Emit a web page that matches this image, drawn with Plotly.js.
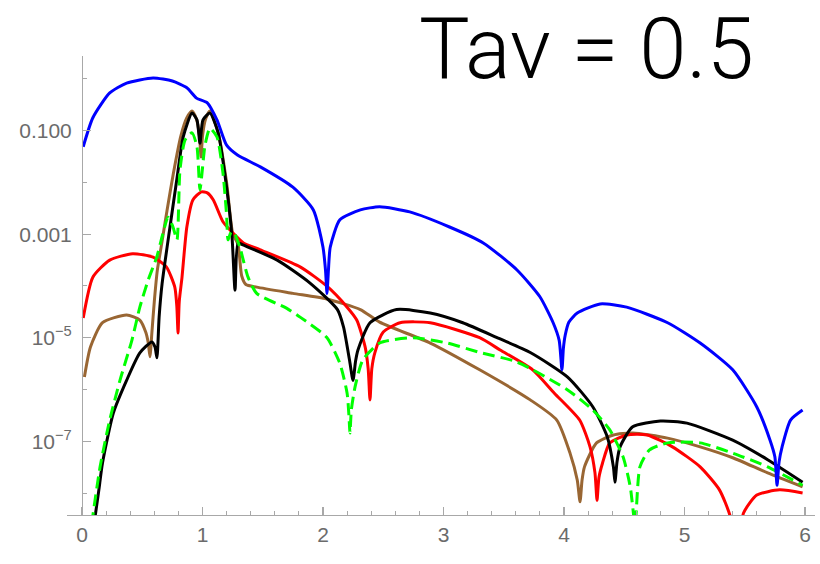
<!DOCTYPE html>
<html>
<head>
<meta charset="utf-8">
<script src="https://cdn.plot.ly/plotly-3.0.1.min.js"></script>
<style>html,body{margin:0;padding:0;background:#fff;}#chart{width:820px;height:564px;}</style>
</head>
<body>
<div id="chart"></div>
<script>
// ---- data (x, y values on log scale) ----
const blueX = [0.01, 0.09, 0.23, 0.37, 0.59, 0.75, 0.87, 0.95, 1.04, 1.12, 1.2, 1.29, 1.48, 1.75, 1.92, 2.0, 2.021, 2.033, 2.045, 2.06, 2.14, 2.31, 2.47, 2.72, 3.05, 3.33, 3.61, 3.8, 3.91, 3.96, 3.983, 3.995, 4.01, 4.04, 4.11, 4.3, 4.52, 4.86, 5.13, 5.4, 5.6, 5.71, 5.75, 5.768, 5.785, 5.81, 5.88, 5.98];
const blueY = [4.9e-2, 0.178, 0.537, 0.832, 1.047, 0.912, 0.676, 0.427, 0.347, 0.162, 5.25e-2, 3.39e-2, 2.0e-2, 8.1e-3, 2.95e-3, 5.6e-4, 2.0e-4, 7.2e-5, 2.0e-4, 5.6e-4, 1.9e-3, 2.95e-3, 3.4e-3, 2.7e-3, 1.38e-3, 6.8e-4, 2.04e-4, 6.2e-5, 1.95e-5, 8.9e-6, 2.4e-6, 6.3e-6, 1.12e-5, 2.0e-5, 3.0e-5, 4.5e-5, 3.9e-5, 1.95e-5, 7.9e-6, 2.4e-6, 4.6e-7, 1.05e-7, 5.0e-8, 1.41e-8, 4.0e-8, 7.8e-8, 2.57e-7, 4.0e-7];

const redX = [0.01, 0.09, 0.23, 0.42, 0.59, 0.7, 0.77, 0.787, 0.797, 0.807, 0.83, 0.87, 0.92, 0.99, 1.04, 1.09, 1.17, 1.245, 1.34, 1.48, 1.81, 2.03, 2.2, 2.28, 2.35, 2.375, 2.39, 2.405, 2.43, 2.5, 2.64, 2.89, 3.3, 3.47, 3.74, 3.92, 4.13, 4.216, 4.257, 4.274, 4.29, 4.32, 4.38, 4.52, 4.69, 4.9, 5.13, 5.29, 5.38, 5.43, 5.49, 5.6, 5.79, 5.98];
const redY = [2.4e-5, 1.48e-4, 3.16e-4, 4.2e-4, 3.6e-4, 2.34e-4, 9.5e-5, 4.0e-5, 1.23e-5, 5.0e-5, 1.48e-4, 1.38e-3, 4.6e-3, 6.6e-3, 6.3e-3, 4.6e-3, 1.74e-3, 1.1e-3, 6.8e-4, 5.0e-4, 2.34e-4, 1.0e-4, 3.9e-5, 2.2e-5, 6.6e-6, 2.5e-6, 6.3e-7, 2.5e-6, 5.1e-6, 1.29e-5, 1.95e-5, 1.95e-5, 1.0e-5, 5.8e-6, 2.4e-6, 8.5e-7, 2.57e-7, 7.8e-8, 2.45e-8, 7.2e-9, 2.0e-8, 3.8e-8, 9.3e-8, 1.32e-7, 1.32e-7, 7.8e-8, 3.2e-8, 1.15e-8, 3.5e-9, 5.0e-10, 4.1e-9, 9.1e-9, 1.15e-8, 1.0e-8];

const brownX = [0.02, 0.07, 0.17, 0.37, 0.48, 0.53, 0.55, 0.564, 0.58, 0.6, 0.625, 0.66, 0.705, 0.76, 0.82, 0.87, 0.913, 0.95, 0.975, 0.988, 1.0, 1.025, 1.062, 1.13, 1.2, 1.25, 1.295, 1.325, 1.36, 1.45, 1.75, 2.03, 2.31, 2.47, 2.89, 3.3, 3.72, 3.94, 4.05, 4.11, 4.133, 4.15, 4.17, 4.27, 4.41, 4.57, 4.86, 5.13, 5.4, 5.69, 5.98];
const brownY = [1.74e-6, 6.6e-6, 1.95e-5, 2.75e-5, 2.2e-5, 1.26e-5, 7.9e-6, 4.3e-6, 1.26e-5, 5.0e-5, 2.0e-4, 6.3e-4, 2.8e-3, 1.58e-2, 7.9e-2, 0.178, 0.24, 0.166, 7.9e-2, 3.1e-2, 7.9e-2, 0.166, 0.24, 9.1e-2, 1.0e-2, 1.05e-3, 6.3e-4, 1.58e-4, 1.07e-4, 9.5e-5, 7.2e-5, 5.6e-5, 3.5e-5, 2.0e-5, 7.9e-6, 2.4e-6, 6.3e-7, 2.57e-7, 5.9e-8, 1.78e-8, 6.8e-9, 1.78e-8, 3.2e-8, 9.3e-8, 1.32e-7, 1.45e-7, 1.15e-7, 7.8e-8, 4.8e-8, 2.45e-8, 1.32e-8];

const blackX = [0.1, 0.14, 0.17, 0.26, 0.37, 0.48, 0.58, 0.606, 0.622, 0.64, 0.665, 0.73, 0.79, 0.84, 0.913, 0.954, 0.979, 1.004, 1.062, 1.13, 1.2, 1.245, 1.27, 1.295, 1.336, 1.62, 1.89, 2.12, 2.17, 2.22, 2.249, 2.27, 2.29, 2.39, 2.61, 2.89, 3.16, 3.44, 3.72, 4.03, 4.24, 4.36, 4.41, 4.423, 4.44, 4.465, 4.57, 4.8, 5.02, 5.4, 5.69, 5.98];
const blackY = [2.5e-9, 1.15e-8, 3.8e-8, 3.5e-7, 1.5e-6, 5.1e-6, 8.3e-6, 6.6e-6, 4.1e-6, 2.5e-5, 1.12e-4, 1.38e-3, 1.29e-2, 7.6e-2, 0.219, 0.162, 5.75e-2, 0.162, 0.219, 9.1e-2, 8.1e-3, 8.9e-4, 8.3e-5, 6.8e-4, 6.2e-4, 3.16e-4, 1.15e-4, 3.5e-5, 1.62e-5, 3.7e-6, 1.5e-6, 3.5e-6, 5.8e-6, 1.95e-5, 3.5e-5, 3.0e-5, 1.95e-5, 1.02e-5, 5.2e-6, 1.74e-6, 4.6e-7, 1.2e-7, 3.2e-8, 1.62e-8, 4.0e-8, 7.8e-8, 1.9e-7, 2.45e-7, 2.24e-7, 1.05e-7, 4.4e-8, 1.62e-8];

const greenX = [0.08, 0.15, 0.23, 0.315, 0.415, 0.48, 0.55, 0.62, 0.67, 0.714, 0.755, 0.788, 0.813, 0.855, 0.913, 0.954, 0.979, 1.021, 1.062, 1.12, 1.17, 1.2, 1.212, 1.237, 1.26, 1.31, 1.378, 1.45, 1.7, 1.81, 2.03, 2.14, 2.2, 2.215, 2.224, 2.235, 2.266, 2.33, 2.47, 2.75, 3.03, 3.3, 3.61, 4.03, 4.24, 4.38, 4.49, 4.55, 4.59, 4.63, 4.71, 4.86, 5.13, 5.4, 5.69, 5.98];
const greenY = [2.5e-9, 3.2e-8, 2.57e-7, 1.5e-6, 9.1e-6, 3.9e-5, 1.32e-4, 3.6e-4, 1.0e-3, 2.14e-3, 1.38e-3, 7.8e-4, 1.74e-2, 6.6e-2, 9.1e-2, 4.9e-2, 7.2e-3, 5.25e-2, 0.112, 7.6e-2, 1.51e-2, 2.34e-3, 7.8e-4, 1.1e-3, 1.1e-3, 5.6e-4, 1.48e-4, 7.2e-5, 3.7e-5, 2.5e-5, 1.02e-5, 3.2e-6, 8.5e-7, 3.2e-7, 1.45e-7, 4.0e-7, 1.12e-6, 3.7e-6, 7.9e-6, 1.0e-5, 7.9e-6, 5.2e-6, 3.4e-6, 9.8e-7, 4.0e-7, 1.66e-7, 5.0e-8, 1.32e-8, 2.5e-9, 3.2e-8, 6.8e-8, 9.3e-8, 9.3e-8, 5.9e-8, 3.2e-8, 1.41e-8];

const xTickVals = [0, 1, 2, 3, 4, 5, 6];
const xTickText = ['0', '1', '2', '3', '4', '5', '6'];
const yTickVals = [0.1, 0.001, 1e-5, 1e-7];
const yTickText = ['0.100', '0.001', '10<sup>\u22125</sup>', '10<sup>\u22127</sup>'];
const yMinorVals = [1, 0.01, 1e-4, 1e-6, 1e-8];
const titleText = 'Tav = 0.5';

function line(x, y, color, dash) {
  return {x: x, y: y, type: 'scatter', mode: 'lines',
          line: {color: color, width: 3, dash: dash || 'solid', shape: 'spline', smoothing: 0.6},
          hoverinfo: 'skip'};
}

const traces = [
  line(brownX, brownY, 'rgb(153,102,51)'),
  line(redX, redY, '#ff0000'),
  line(blackX, blackY, '#000000'),
  line(greenX, greenY, '#00ff00', '12px,6px'),
  line(blueX, blueY, '#0000ff')
];

const axisGray = '#a8a8a8';
const tickFont = {family: '"Liberation Sans", Arial, sans-serif', size: 21, color: '#6b6b6b'};
const xMin = -0.1245, xMax = 6.083;

const layout = {
  width: 820, height: 564,
  margin: {l: 67, r: 5, t: 56, b: 49, pad: 0},
  paper_bgcolor: '#ffffff', plot_bgcolor: '#ffffff',
  showlegend: false,
  xaxis: {
    range: [xMin, xMax], showgrid: false, zeroline: false,
    showline: true, linecolor: axisGray, linewidth: 1.3,
    ticks: 'inside', ticklen: 8, tickwidth: 1.2, tickcolor: axisGray,
    tickmode: 'array', tickvals: xTickVals, ticktext: xTickText,
    tickfont: tickFont,
    minor: {tickmode: 'linear', tick0: 0, dtick: 0.2, ticks: 'inside', ticklen: 4, tickwidth: 1, tickcolor: axisGray, showgrid: false}
  },
  yaxis: {
    type: 'log', range: [-8.425, 0.444],
    anchor: 'free', position: (0 - xMin) / (xMax - xMin),
    showgrid: false, zeroline: false,
    showline: true, linecolor: axisGray, linewidth: 1.3,
    ticks: 'inside', ticklen: 8, tickwidth: 1.2, tickcolor: axisGray,
    tickmode: 'array', tickvals: yTickVals, ticktext: yTickText,
    tickfont: tickFont, ticklabelstandoff: 6,
    minor: {tickmode: 'array', tickvals: yMinorVals, ticks: 'inside', ticklen: 4, tickwidth: 1, tickcolor: axisGray, showgrid: false}
  },
  annotations: [{
    text: titleText, xref: 'paper', yref: 'paper',
    x: 0.468, y: 1.016, xanchor: 'left', yanchor: 'middle', showarrow: false,
    font: {family: 'Roboto, "Liberation Sans", sans-serif', size: 85, weight: 300, color: '#000000'}
  }]
};

Plotly.newPlot('chart', traces, layout, {staticPlot: true, displayModeBar: false});
</script>
</body>
</html>
